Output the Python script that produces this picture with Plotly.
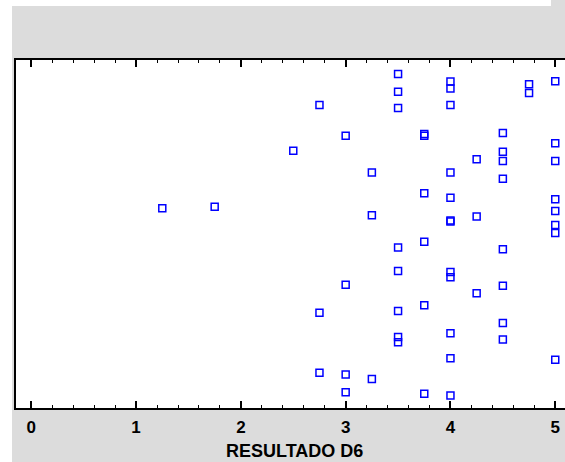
import plotly.graph_objects as go

# RESULTADO D6 values and vertical jitter (0..1)
resultado = [3.5, 4.0, 4.0, 4.75, 4.75, 5.0, 3.5, 2.75, 3.5, 4.0,
             3.0, 3.75, 3.75, 4.5, 2.5, 5.0, 4.5, 4.25, 4.5, 5.0,
             3.25, 4.0, 4.5, 3.75, 4.0, 5.0, 5.0, 3.25, 4.0, 4.0,
             4.25, 5.0, 5.0, 3.75, 3.5, 4.5, 3.5, 4.0, 4.0, 3.0,
             4.5, 4.25, 2.75, 3.5, 3.75, 4.5, 4.0, 3.5, 3.5, 4.5,
             4.0, 5.0, 2.75, 3.0, 3.25, 3.0, 3.75, 4.0, 1.25, 1.75]
jitter = [0.960, 0.938, 0.918, 0.930, 0.905, 0.939, 0.909, 0.871, 0.862, 0.871,
          0.782, 0.787, 0.782, 0.790, 0.739, 0.761, 0.736, 0.715, 0.710, 0.710,
          0.677, 0.677, 0.659, 0.617, 0.604, 0.600, 0.566, 0.554, 0.539, 0.536,
          0.550, 0.526, 0.503, 0.478, 0.461, 0.456, 0.394, 0.391, 0.376, 0.354,
          0.351, 0.330, 0.274, 0.279, 0.295, 0.244, 0.215, 0.204, 0.189, 0.197,
          0.143, 0.139, 0.101, 0.096, 0.083, 0.045, 0.041, 0.036, 0.574, 0.578]
x_ticks = [0, 1, 2, 3, 4, 5]
x_title = "RESULTADO D6"

W, H = 565, 462
L, R, T, B = 16, 0, 60, 54
pw, ph = W - L - R, H - T - B
FONT = "Liberation Sans, Arial, sans-serif"

def px(x):
    return (x - L) / pw

def py(y):
    return (H - B - y) / ph

fig = go.Figure()
fig.add_trace(go.Scatter(
    x=resultado, y=jitter, mode="markers",
    marker=dict(symbol="square-open", size=7, color="#0000ff",
                line=dict(width=1.5, color="#0000ff")),
    hoverinfo="x", showlegend=False, cliponaxis=False))

fig.update_layout(
    width=W, height=H,
    margin=dict(l=L, r=R, t=T, b=B, pad=0),
    paper_bgcolor="#dcdcdc", plot_bgcolor="#ffffff",
    font=dict(family=FONT, color="#000000"),
    xaxis=dict(range=[-0.146, 5.093], tickvals=x_ticks,
               ticktext=[str(t) for t in x_ticks],
               ticks="inside", ticklen=7, tickwidth=1.5, tickcolor="#000000",
               minor=dict(dtick=0.2, tick0=0, ticks="inside", ticklen=3,
                          tickwidth=1, tickcolor="#000000", showgrid=False),
               showline=True, linewidth=1.7, linecolor="#000000",
               mirror="allticks", showgrid=False, zeroline=False,
               tickfont=dict(size=17, family=FONT, weight="bold"),
               ticklabelstandoff=3,
               fixedrange=True),
    yaxis=dict(range=[0, 1], showticklabels=False, ticks="",
               showline=True, linewidth=1.7, linecolor="#000000",
               mirror=False, showgrid=False, zeroline=False, fixedrange=True),
    annotations=[dict(text=x_title, xref="paper", yref="paper",
                      x=px(294), y=py(451), xanchor="center", yanchor="middle",
                      showarrow=False,
                      font=dict(size=18, family=FONT, weight="bold"))],
    shapes=[
        dict(type="rect", xref="paper", yref="paper", x0=px(0), x1=px(12),
             y0=py(H), y1=py(0), fillcolor="#ffffff", line=dict(width=0)),
        dict(type="rect", xref="paper", yref="paper", x0=px(0), x1=px(551),
             y0=py(6), y1=py(0), fillcolor="#ffffff", line=dict(width=0)),
    ],
)

fig.write_html("out.html",
               config={"displayModeBar": False},
               post_script="document.body.style.margin='0';"
                           "document.body.style.overflow='hidden';")
